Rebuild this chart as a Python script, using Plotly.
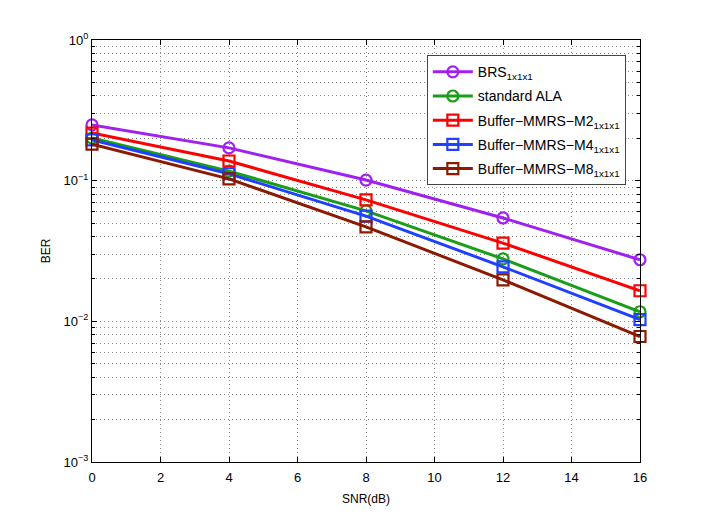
import plotly.graph_objects as go

snr = [0, 4, 8, 12, 16]

ber_brs = [0.249, 0.171, 0.101, 0.0543, 0.0274]
ber_ala = [0.201, 0.117, 0.061, 0.0278, 0.0117]
ber_m2 = [0.218, 0.138, 0.073, 0.036, 0.0165]
ber_m4 = [0.195, 0.112, 0.056, 0.0244, 0.0103]
ber_m8 = [0.182, 0.103, 0.047, 0.0197, 0.0078]

series = [
    ("BRS<sub>1x1x1</sub>", ber_brs, "#A020F0", "circle-open"),
    ("standard ALA", ber_ala, "#1A9E1A", "circle-open"),
    ("Buffer\u2212MMRS\u2212M2<sub>1x1x1</sub>", ber_m2, "#FF0000", "square-open"),
    ("Buffer\u2212MMRS\u2212M4<sub>1x1x1</sub>", ber_m4, "#2040FF", "square-open"),
    ("Buffer\u2212MMRS\u2212M8<sub>1x1x1</sub>", ber_m8, "#8B1A00", "square-open"),
]

# minor log grid positions (2..9 in each decade)
minor_vals = [m * 10.0 ** e for e in (-3, -2, -1) for m in range(2, 10)]

fig = go.Figure()
for name, ys, color, sym in series:
    fig.add_trace(go.Scatter(
        x=snr, y=ys, mode="lines+markers", name=name, legendgroup=name,
        cliponaxis=False,
        line=dict(color=color, width=3),
        marker=dict(symbol=sym, size=11, color=color, line=dict(width=2.2, color=color)),
    ))

axis_common = dict(
    showline=True, linecolor="black", linewidth=1, mirror="ticks",
    ticks="inside", ticklen=5, tickcolor="black", automargin=False,
    showgrid=True, gridcolor="#888888", griddash="1px,3px", gridwidth=1,
    zeroline=False, tickfont=dict(size=13, color="black"),
)

fig.update_layout(
    width=710, height=524,
    margin=dict(l=84, r=78, t=32, b=70),
    paper_bgcolor="white", plot_bgcolor="white",
    font=dict(family="Liberation Sans, Arial, sans-serif", size=12, color="black"),
    xaxis=dict(
        range=[0, 16], tickvals=list(range(0, 17, 2)), ticklabelstandoff=3,
        title=dict(text="SNR(dB)", standoff=11, font=dict(size=12)),
        **axis_common,
    ),
    yaxis=dict(
        type="log", range=[-3, 0],
        tickvals=[1e-3, 1e-2, 1e-1, 1],
        ticktext=["10<sup>\u22123</sup>", "10<sup>\u22122</sup>", "10<sup>\u22121</sup>", "10<sup>0</sup>"],
        title=dict(text="BER", standoff=10, font=dict(size=12)),
        minor=dict(tickmode="array", tickvals=minor_vals, ticks="inside", ticklen=3,
                   tickcolor="black", showgrid=True, gridcolor="#888888", griddash="1px,3px"),
        **axis_common,
    ),
    legend=dict(
        x=0.611, y=0.964, xanchor="left", yanchor="top",
        bgcolor="white", bordercolor="#444444", borderwidth=1,
        font=dict(size=14), itemwidth=40, tracegroupgap=3,
    ),
)

fig.write_html("out.html")
